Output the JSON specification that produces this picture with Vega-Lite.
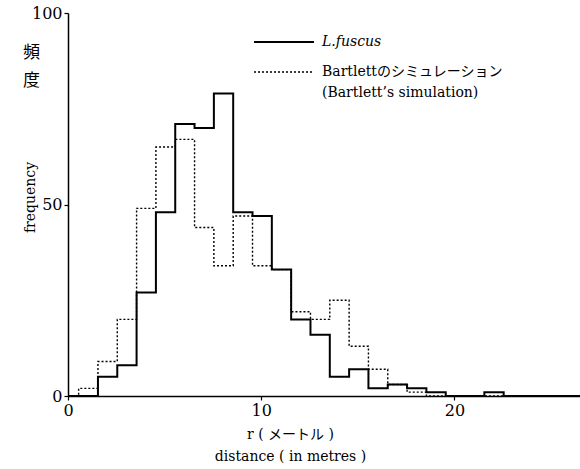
{
  "$schema": "https://vega.github.io/schema/vega-lite/v6.json",
  "width": 512,
  "height": 383,
  "autosize": {"type": "none"},
  "padding": {"left": 68, "top": 13, "right": 0, "bottom": 73},
  "background": "white",
  "config": {
    "view": {"stroke": null},
    "font": "'DejaVu Serif', 'Noto Sans CJK JP'",
    "axis": {
      "grid": false,
      "domainColor": "black",
      "domainWidth": 1.5,
      "tickColor": "black",
      "tickWidth": 1.2,
      "labelColor": "black",
      "titleColor": "black",
      "labelFont": "'DejaVu Serif'",
      "labelFontSize": 16,
      "titleFont": "'DejaVu Serif', 'Noto Sans CJK JP'",
      "titleFontSize": 14,
      "titleFontWeight": "normal"
    }
  },
  "data": {
    "values": [
      {"series": "L.fuscus", "r": 0, "count": 0},
      {"series": "L.fuscus", "r": 0.55, "count": 0},
      {"series": "L.fuscus", "r": 1.55, "count": 5},
      {"series": "L.fuscus", "r": 2.55, "count": 8},
      {"series": "L.fuscus", "r": 3.55, "count": 27},
      {"series": "L.fuscus", "r": 4.55, "count": 48},
      {"series": "L.fuscus", "r": 5.55, "count": 71},
      {"series": "L.fuscus", "r": 6.55, "count": 70},
      {"series": "L.fuscus", "r": 7.55, "count": 79},
      {"series": "L.fuscus", "r": 8.55, "count": 48},
      {"series": "L.fuscus", "r": 9.55, "count": 47},
      {"series": "L.fuscus", "r": 10.55, "count": 33},
      {"series": "L.fuscus", "r": 11.55, "count": 20},
      {"series": "L.fuscus", "r": 12.55, "count": 16},
      {"series": "L.fuscus", "r": 13.55, "count": 5},
      {"series": "L.fuscus", "r": 14.55, "count": 7},
      {"series": "L.fuscus", "r": 15.55, "count": 2},
      {"series": "L.fuscus", "r": 16.55, "count": 3},
      {"series": "L.fuscus", "r": 17.55, "count": 2},
      {"series": "L.fuscus", "r": 18.55, "count": 1},
      {"series": "L.fuscus", "r": 19.55, "count": 0},
      {"series": "L.fuscus", "r": 20.55, "count": 0},
      {"series": "L.fuscus", "r": 21.55, "count": 1},
      {"series": "L.fuscus", "r": 22.55, "count": 0},
      {"series": "L.fuscus", "r": 26.5, "count": 0},
      {"series": "Bartlett", "r": 0, "count": 0},
      {"series": "Bartlett", "r": 0.55, "count": 2},
      {"series": "Bartlett", "r": 1.55, "count": 9},
      {"series": "Bartlett", "r": 2.55, "count": 20},
      {"series": "Bartlett", "r": 3.55, "count": 49},
      {"series": "Bartlett", "r": 4.55, "count": 65},
      {"series": "Bartlett", "r": 5.55, "count": 67},
      {"series": "Bartlett", "r": 6.55, "count": 44},
      {"series": "Bartlett", "r": 7.55, "count": 34},
      {"series": "Bartlett", "r": 8.55, "count": 47},
      {"series": "Bartlett", "r": 9.55, "count": 34},
      {"series": "Bartlett", "r": 10.55, "count": 33},
      {"series": "Bartlett", "r": 11.55, "count": 22},
      {"series": "Bartlett", "r": 12.55, "count": 20},
      {"series": "Bartlett", "r": 13.55, "count": 25},
      {"series": "Bartlett", "r": 14.55, "count": 13},
      {"series": "Bartlett", "r": 15.55, "count": 7},
      {"series": "Bartlett", "r": 16.55, "count": 3},
      {"series": "Bartlett", "r": 17.55, "count": 1},
      {"series": "Bartlett", "r": 18.55, "count": 0},
      {"series": "Bartlett", "r": 26.5, "count": 0}
    ]
  },
  "encoding": {
    "x": {
      "field": "r",
      "type": "quantitative",
      "scale": {"domain": [0, 26.5], "nice": false},
      "axis": {
        "values": [0, 10, 20],
        "tickSize": 4,
        "labelPadding": 2,
        "labelFlush": false,
        "title": ["r ( メートル )", "distance ( in metres )"],
        "titleLineHeight": 22,
        "titlePadding": 9,
        "titleX": 222
      }
    },
    "strokeDash": {
      "field": "series",
      "type": "nominal",
      "scale": {"domain": ["L.fuscus", "Bartlett"], "range": [[1, 0], [2, 2]]},
      "legend": {
        "orient": "none",
        "legendX": 209,
        "legendY": 22,
        "title": null,
        "symbolType": "stroke",
        "symbolSize": 3600,
        "symbolStrokeColor": "black",
        "labelFont": "'DejaVu Serif', 'Noto Sans CJK JP'",
        "labelFontSize": 14,
        "labelColor": "black",
        "labelLimit": 400,
        "labelOffset": 31,
        "rowPadding": 16,
        "labelExpr": "datum.value === 'Bartlett' ? ['Bartlettのシミュレーション', '(Bartlett’s simulation)'] : datum.label",
        "encode": {
          "labels": {
            "update": {
              "fontStyle": {"signal": "datum.value === 'L.fuscus' ? 'italic' : 'normal'"},
              "lineHeight": {"value": 21}
            }
          },
          "symbols": {"update": {"strokeWidth": {"signal": "datum.value === 'L.fuscus' ? 2 : 1.4"}}}
        }
      }
    }
  },
  "layer": [
    {
      "transform": [{"filter": "datum.series === 'Bartlett'"}],
      "mark": {"type": "line", "interpolate": "step-after", "color": "black", "strokeWidth": 1.4},
      "encoding": {
        "y": {
          "field": "count",
          "type": "quantitative",
          "scale": {"domain": [0, 100]},
          "axis": {
            "orient": "right",
            "labels": false,
            "ticks": false,
            "domain": false,
            "title": ["頻", "度"],
            "titleFontSize": 17,
            "titleAngle": 0,
            "titleLineHeight": 28,
            "titleBaseline": "top",
            "titleAlign": "center",
            "titleX": -549,
            "titleY": 31
          }
        }
      }
    },
    {
      "transform": [{"filter": "datum.series === 'L.fuscus'"}],
      "mark": {"type": "line", "interpolate": "step-after", "color": "black", "strokeWidth": 2},
      "encoding": {
        "y": {
          "field": "count",
          "type": "quantitative",
          "scale": {"domain": [0, 100]},
          "axis": {
            "orient": "left",
            "values": [0, 50, 100],
            "tickSize": 4,
            "labelPadding": 2,
            "labelFlush": false,
            "title": "frequency",
            "titleAngle": -90,
            "titleAlign": "center",
            "titleBaseline": "middle",
            "titleX": -38,
            "titleY": 184
          }
        }
      }
    }
  ],
  "resolve": {"axis": {"y": "independent"}}
}
